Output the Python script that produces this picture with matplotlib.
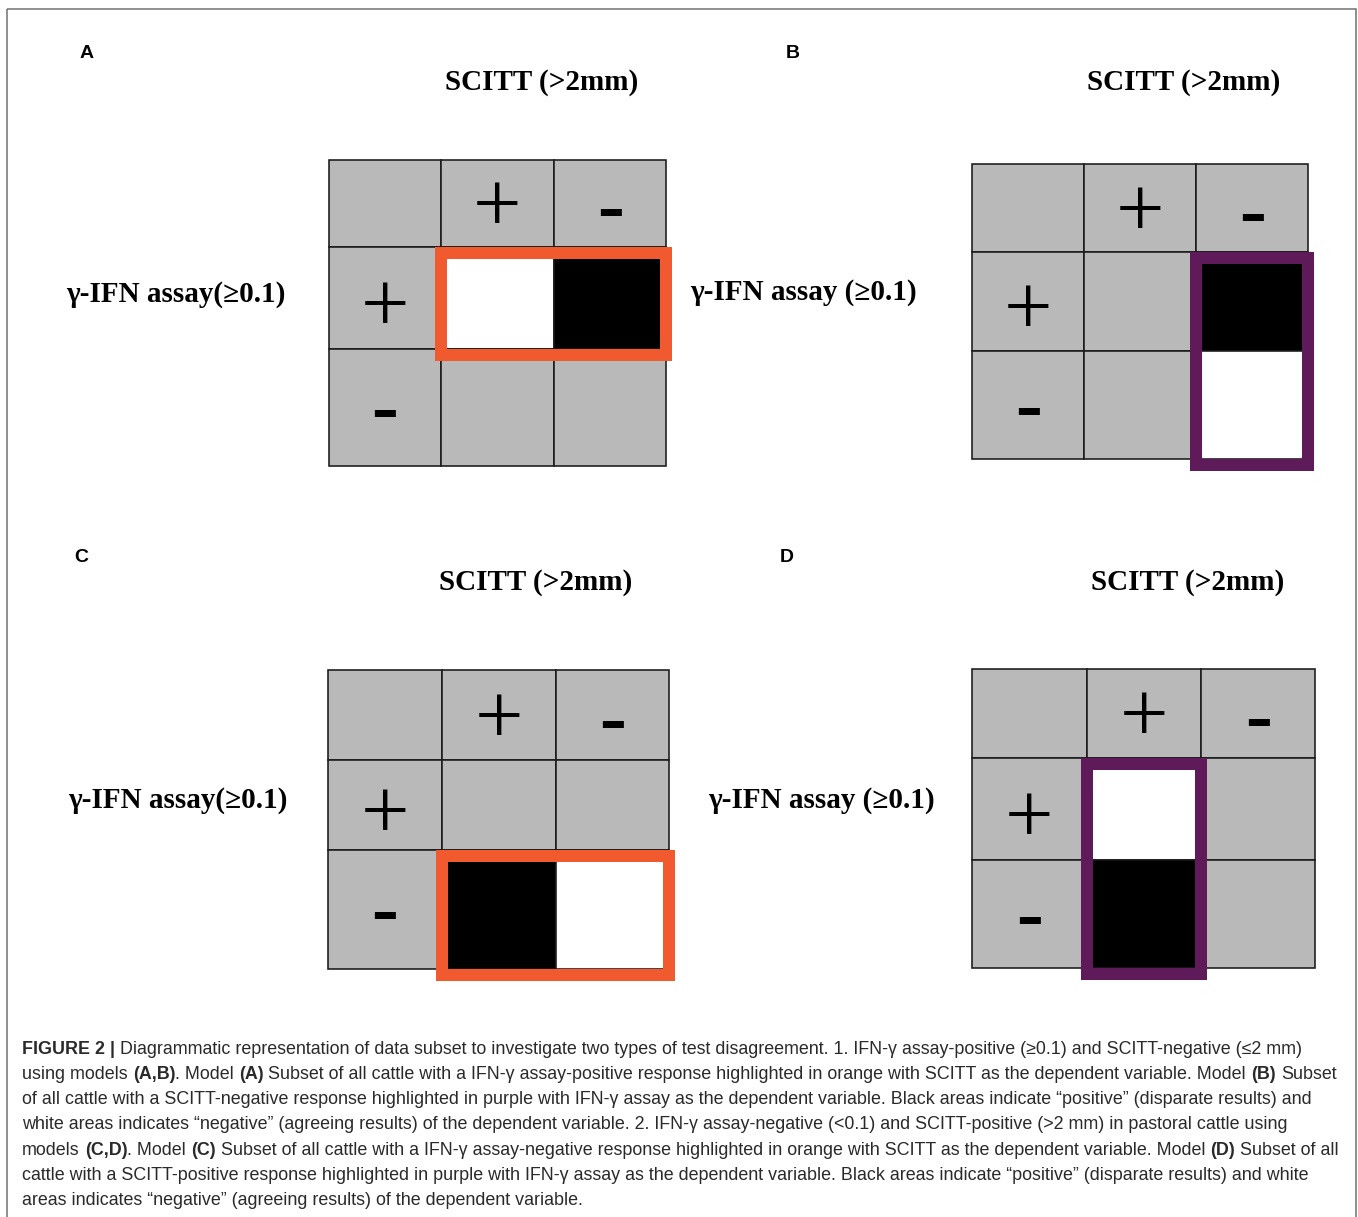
import matplotlib
matplotlib.use("Agg")
import matplotlib.pyplot as plt
from matplotlib.patches import Rectangle

# -----------------------------
# Data: what each 3x3 grid shows
# -----------------------------
PANELS = ["A", "B", "C", "D"]

# G = grey, W = white ("negative"), K = black ("positive")
CELL_STATES = {
    "A": [["G", "G", "G"], ["G", "W", "K"], ["G", "G", "G"]],
    "B": [["G", "G", "G"], ["G", "G", "K"], ["G", "G", "W"]],
    "C": [["G", "G", "G"], ["G", "G", "G"], ["G", "K", "W"]],
    "D": [["G", "G", "G"], ["G", "W", "G"], ["G", "K", "G"]],
}

# highlighted block: (first col, first row, n cols, n rows)
HIGHLIGHT = {"A": (1, 1, 2, 1), "B": (2, 1, 1, 2), "C": (1, 2, 2, 1), "D": (1, 1, 1, 2)}
HIGHLIGHT_KIND = {"A": "orange", "B": "purple", "C": "orange", "D": "purple"}

COL_HEADERS = ["", "+", "-"]
ROW_HEADERS = ["", "+", "-"]
COL_TITLE = "SCITT (>2mm)"
ROW_TITLES = {
    "A": "γ-IFN assay(≥0.1)",
    "B": "γ-IFN assay (≥0.1)",
    "C": "γ-IFN assay(≥0.1)",
    "D": "γ-IFN assay (≥0.1)",
}

CAPTION = [
    [("FIGURE 2 |", True), (" Diagrammatic representation of data subset to investigate two types of test "
                            "disagreement. 1. IFN-γ assay-positive (≥0.1) and SCITT-negative (≤2 mm)", False)],
    [("using models ", False), ("(A,B)", True), (". Model ", False), ("(A)", True),
     (" Subset of all cattle with a IFN-γ assay-positive response highlighted in orange with SCITT as the "
      "dependent variable. Model ", False), ("(B)", True), (" Subset", False)],
    [("of all cattle with a SCITT-negative response highlighted in purple with IFN-γ assay as the dependent "
      "variable. Black areas indicate “positive” (disparate results) and", False)],
    [("white areas indicates “negative” (agreeing results) of the dependent variable. 2. IFN-γ assay-negative "
      "(<0.1) and SCITT-positive (>2 mm) in pastoral cattle using", False)],
    [("models ", False), ("(C,D)", True), (". Model ", False), ("(C)", True),
     (" Subset of all cattle with a IFN-γ assay-negative response highlighted in orange with SCITT as the "
      "dependent variable. Model ", False), ("(D)", True), (" Subset of all", False)],
    [("cattle with a SCITT-positive response highlighted in purple with IFN-γ assay as the dependent variable. "
      "Black areas indicate “positive” (disparate results) and white", False)],
    [("areas indicates “negative” (agreeing results) of the dependent variable.", False)],
]

# -----------------------------
# Layout (pixels of the 1358x1217 canvas)
# -----------------------------
W, H = 1358, 1217
COL_EDGES = {
    "A": [329, 441, 554, 666],
    "B": [972, 1084, 1196, 1308],
    "C": [328, 442, 556, 669],
    "D": [972, 1087, 1201, 1315],
}
ROW_EDGES = {
    "A": [160, 247, 349, 466],
    "B": [164, 252, 351, 459],
    "C": [670, 760, 850, 969],
    "D": [669, 758, 860, 968],
}
LETTER_POS = {"A": (87, 54), "B": (793, 54), "C": (81, 557), "D": (787, 557)}
TITLE_POS = {"A": (542, 83), "B": (1184, 83), "C": (536, 582), "D": (1188, 582)}
ROWLAB_POS = {"A": (66, 294), "B": (690, 293), "C": (68, 801), "D": (708, 801)}

FILL = {"G": "#b9b9b9", "W": "#ffffff", "K": "#000000"}
HL_COLOR = {"orange": "#f15a2e", "purple": "#5f1a5a"}
HL_LW_PX = 12
PX = 72 / 100  # points per pixel at dpi 100

SERIF = ["Liberation Serif", "DejaVu Serif"]
SANS = ["Liberation Sans", "DejaVu Sans"]

fig = plt.figure(figsize=(W / 100, H / 100), dpi=100)
ax = fig.add_axes([0, 0, 1, 1])
ax.set_xlim(0, W)
ax.set_ylim(H, 0)
ax.axis("off")

# outer frame
ax.add_patch(Rectangle((7, 9), 1349, 1230, fill=False, edgecolor="#6e6e6e",
                       linewidth=1.5 * PX, clip_on=False))

plus_fs = 62
minus_fs = 62
plus_base = 0.25 * plus_fs / PX + 7     # baseline offset so the cross sits on the cell centre
minus_base = 0.29 * minus_fs / PX

for p in PANELS:
    xs, ys = COL_EDGES[p], ROW_EDGES[p]
    states = CELL_STATES[p]

    # cells
    for r in range(3):
        for c in range(3):
            ax.add_patch(Rectangle((xs[c], ys[r]), xs[c + 1] - xs[c], ys[r + 1] - ys[r],
                                   facecolor=FILL[states[r][c]], edgecolor="#1a1a1a",
                                   linewidth=1.6 * PX, zorder=1))

    # +/- headers
    for c, s in enumerate(COL_HEADERS):
        if not s:
            continue
        cx = (xs[c] + xs[c + 1]) / 2
        cy = (ys[0] + ys[1]) / 2
        if s == "+":
            ax.text(cx, cy + plus_base, s, fontsize=plus_fs, family=SERIF,
                    ha="center", va="baseline", zorder=3)
        else:
            ax.text(cx, cy + 7 + minus_base, s, fontsize=minus_fs, family=SANS,
                    ha="center", va="baseline", zorder=3)
    for r, s in enumerate(ROW_HEADERS):
        if not s:
            continue
        cx = (xs[0] + xs[1]) / 2
        cy = (ys[r] + ys[r + 1]) / 2
        if s == "+":
            ax.text(cx, cy + 5 + plus_base, s, fontsize=plus_fs, family=SERIF,
                    ha="center", va="baseline", zorder=3)
        else:
            ax.text(cx, cy + 4 + minus_base, s, fontsize=minus_fs, family=SANS,
                    ha="center", va="baseline", zorder=3)

    # highlighted block (outer edge sits on the cell line at the top)
    c0, r0, nc, nr = HIGHLIGHT[p]
    off = HL_LW_PX / 2
    ax.add_patch(Rectangle((xs[c0], ys[r0] + off), xs[c0 + nc] - xs[c0], ys[r0 + nr] - ys[r0],
                           fill=False, edgecolor=HL_COLOR[HIGHLIGHT_KIND[p]],
                           linewidth=HL_LW_PX * PX, joinstyle="miter", zorder=4))

    # texts
    lx, ly = LETTER_POS[p]
    ax.text(lx, ly, p, fontsize=14, fontweight="bold", family=SANS, ha="center", va="center")
    tx, ty = TITLE_POS[p]
    ax.text(tx, ty, COL_TITLE, fontsize=21, fontweight="bold", family=SERIF, ha="center", va="center")
    rx, ry = ROWLAB_POS[p]
    ax.text(rx, ry, ROW_TITLES[p], fontsize=21, fontweight="bold", family=SERIF, ha="left", va="center")

# -----------------------------
# Caption with mixed bold runs
# -----------------------------
renderer = fig.canvas.get_renderer()


def advance(s, fs, bold):
    t = ax.text(0, 0, "|" + s + "|", fontsize=fs, family=SANS, fontweight="bold" if bold else "normal")
    w1 = t.get_window_extent(renderer).width
    t.set_text("||")
    w2 = t.get_window_extent(renderer).width
    t.remove()
    return w1 - w2


# size chosen so the second caption line spans its measured width
ref = sum(advance(s, 12, b) for s, b in CAPTION[1])
cap_fs = 12 * 1319 / ref

CAP_X0 = 22
CAP_BASE0 = 1054
CAP_STEP = 25.15
for i, line in enumerate(CAPTION):
    x = CAP_X0
    y = CAP_BASE0 + i * CAP_STEP
    for s, b in line:
        lead = len(s) - len(s.lstrip(" "))
        body = s.strip(" ")
        xd = x + (advance(" " * lead, cap_fs, b) if lead else 0)
        ax.text(xd, y, body, fontsize=cap_fs, family=SANS, fontweight="bold" if b else "normal",
                color="#2a2a2a", ha="left", va="baseline")
        x += advance(s, cap_fs, b)

fig.savefig("out.png", dpi=100)
